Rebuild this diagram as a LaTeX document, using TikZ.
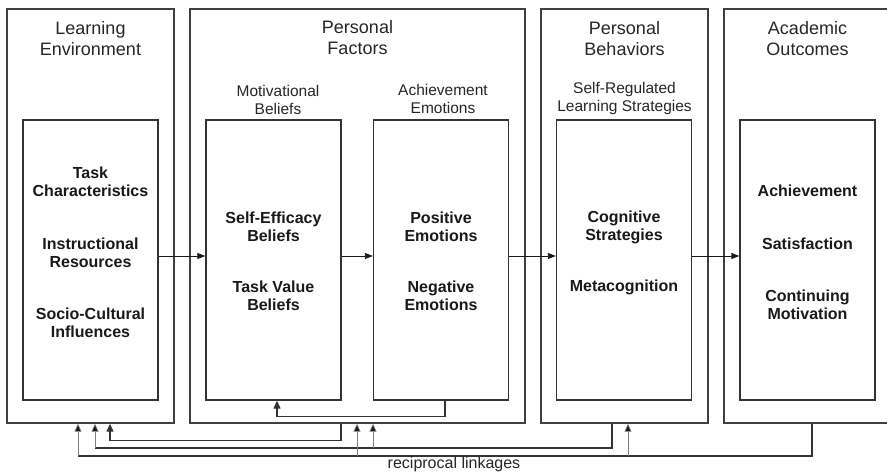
\documentclass[tikz,border=0pt]{standalone}
\usepackage{fontspec}
\setmainfont{Liberation Sans}
\usetikzlibrary{arrows.meta}

\tikzset{
  panel/.style={draw=black!75,line width=1.4pt,minimum width=167pt,minimum height=414pt,inner sep=0pt},
  inbox/.style={draw=black!80,line width=1.3pt,minimum width=135pt,minimum height=280pt,inner sep=0pt},
  title/.style={align=center,text=black!85,font=\fontsize{18}{21}\selectfont},
  sublabel/.style={align=center,text=black!85,font=\fontsize{15.5}{18}\selectfont},
  item/.style={align=center,text=black!90,font=\fontsize{16}{18}\selectfont\bfseries},
  fwd/.style={draw=black!90,line width=0.8pt,-{Triangle[length=8pt,width=6pt]}},
  link/.style={draw=black!80,line width=1.2pt},
  branch/.style={draw=black!50,line width=0.7pt,-{Triangle[length=8pt,width=7pt,fill=black!90]}},
}

\begin{document}
\begin{tikzpicture}[x=1pt,y=-1pt]
  \useasboundingbox (0,0) rectangle (887,472);
  \clip (0,0) rectangle (887,472);

  % outer panels
  \node[panel] (le) at (90.5,216) {};
  \node[panel,minimum width=335pt] (pf) at (357.5,216) {};
  \node[panel] (pb) at (624.5,216) {};
  \node[panel] (ao) at (807.5,216) {};

  % inner boxes
  \node[inbox] (env) at (90.5,260) {};
  \node[inbox] (mot) at (273.5,260) {};
  \node[inbox] (emo) at (441,260) {};
  \node[inbox] (srl) at (624,260) {};
  \node[inbox] (out) at (807.5,260) {};

  % headings
  \node[title] (le-t) at (90.5,38.5) {Learning\\Environment};
  \node[title] (pf-t) at (357.5,38) {Personal\\Factors};
  \node[title] (pb-t) at (624.5,38.5) {Personal\\Behaviors};
  \node[title] (ao-t) at (807.5,38.5) {Academic\\Outcomes};
  \node[sublabel] (mot-t) at (278,100) {Motivational\\Beliefs};
  \node[sublabel] (emo-t) at (443,99) {Achievement\\Emotions};
  \node[sublabel] (srl-t) at (624.5,98.5) {Self-Regulated\\Learning Strategies};

  % box contents
  \node[item] (env1) at (90.5,182) {Task\\Characteristics};
  \node[item] (env2) at (90.5,252.5) {Instructional\\Resources};
  \node[item] (env3) at (90.5,322.5) {Socio-Cultural\\Influences};
  \node[item] (mot1) at (273.5,227) {Self-Efficacy\\Beliefs};
  \node[item] (mot2) at (273.5,296) {Task Value\\Beliefs};
  \node[item] (emo1) at (441,227) {Positive\\Emotions};
  \node[item] (emo2) at (441,296) {Negative\\Emotions};
  \node[item] (srl1) at (624,227) {Cognitive\\Strategies};
  \node[item] (srl2) at (624,287) {Metacognition};
  \node[item] (out1) at (807.5,191) {Achievement};
  \node[item] (out2) at (807.5,244) {Satisfaction};
  \node[item] (out3) at (807.5,304.5) {Continuing\\Motivation};

  % forward path
  \foreach \a/\b in {env/mot, mot/emo, emo/srl, srl/out}
    \draw[fwd] (\a.east |- 0,256) -- (\b.west |- 0,256);

  % feedback taps
  \path ([xshift=19.5pt]le.south) coordinate (le1)
        ([xshift=4.5pt]le.south) coordinate (le2)
        ([xshift=-12.5pt]le.south) coordinate (le3)
        ([xshift=-16.5pt]pf.south) coordinate (pf0)
        ([xshift=15.5pt]pf.south) coordinate (pf2)
        ([xshift=-0.5pt]pf.south) coordinate (pf3)
        ([xshift=-12.5pt]pb.south) coordinate (pb0)
        ([xshift=3.5pt]pb.south) coordinate (pb3)
        ([xshift=4.5pt]ao.south) coordinate (ao0);

  \draw[link,-{Triangle[length=8pt,width=7pt]}] ([xshift=4pt]emo.south) -- ++(0,16) -| ([xshift=3.5pt]mot.south);
  \draw[link,-{Triangle[length=8pt,width=7pt]}] (pf0) -- ++(0,17) -| (le1);

  \draw[link] (pb0) |- (le2 |- 0,448) coordinate (j2);
  \draw[branch] (j2) -- (le2);
  \draw[branch] (pf2 |- j2) -- (pf2);

  \draw[link] (ao0) |- (le3 |- 0,456) coordinate (j3);
  \draw[branch] (j3) -- (le3);
  \draw[branch] (pf3 |- j3) -- (pf3);
  \draw[branch] (pb3 |- j3) -- (pb3);

  \node[font=\fontsize{16}{18}\selectfont,text=black!85] (recip) at (454,464.5) {reciprocal linkages};
\end{tikzpicture}
\end{document}
